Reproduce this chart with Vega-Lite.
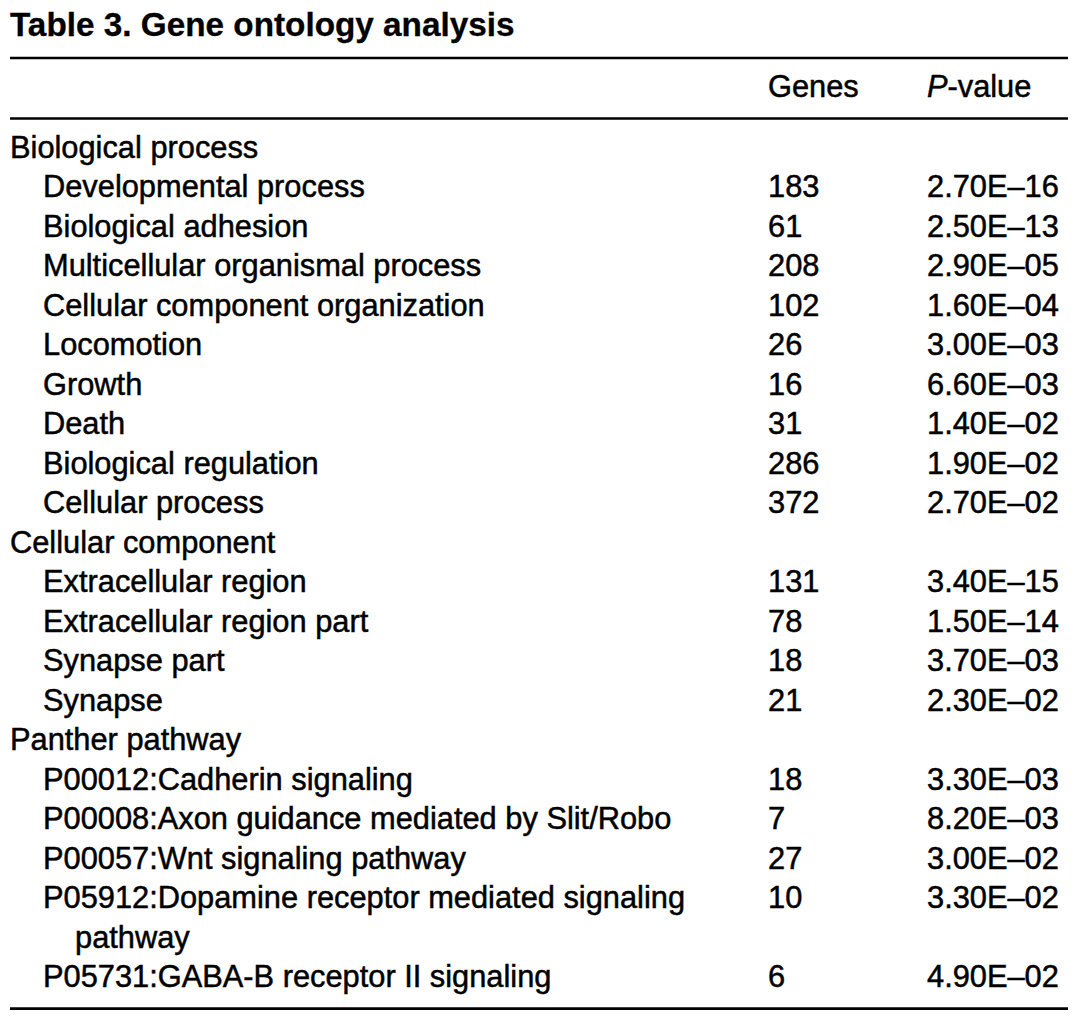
{
  "$schema": "https://vega.github.io/schema/vega-lite/v6.json",
  "width": 1079,
  "height": 1019,
  "padding": 0,
  "autosize": {"type": "none"},
  "background": "white",
  "config": {"view": {"stroke": null}},
  "datasets": {
    "title": [{"row": -1, "col": 0, "text": "Table 3. Gene ontology analysis"}],
    "header": [{"row": 0, "col": 3, "text": "Genes"}],
    "headerP": [{"row": 0, "col": 4, "italic": "P", "rest": "-value"}],
    "rules": [
      {"row": -0.5, "from": 0, "to": 5},
      {"row": 0.5, "from": 0, "to": 5},
      {"row": 22.55, "from": 0, "to": 5}
    ],
    "cells": [
      {"row": 1, "col": 0, "text": "Biological process"},
      {"row": 2, "col": 1, "text": "Developmental process"},
      {"row": 2, "col": 3, "text": "183"},
      {"row": 2, "col": 4, "text": "2.70E–16"},
      {"row": 3, "col": 1, "text": "Biological adhesion"},
      {"row": 3, "col": 3, "text": "61"},
      {"row": 3, "col": 4, "text": "2.50E–13"},
      {"row": 4, "col": 1, "text": "Multicellular organismal process"},
      {"row": 4, "col": 3, "text": "208"},
      {"row": 4, "col": 4, "text": "2.90E–05"},
      {"row": 5, "col": 1, "text": "Cellular component organization"},
      {"row": 5, "col": 3, "text": "102"},
      {"row": 5, "col": 4, "text": "1.60E–04"},
      {"row": 6, "col": 1, "text": "Locomotion"},
      {"row": 6, "col": 3, "text": "26"},
      {"row": 6, "col": 4, "text": "3.00E–03"},
      {"row": 7, "col": 1, "text": "Growth"},
      {"row": 7, "col": 3, "text": "16"},
      {"row": 7, "col": 4, "text": "6.60E–03"},
      {"row": 8, "col": 1, "text": "Death"},
      {"row": 8, "col": 3, "text": "31"},
      {"row": 8, "col": 4, "text": "1.40E–02"},
      {"row": 9, "col": 1, "text": "Biological regulation"},
      {"row": 9, "col": 3, "text": "286"},
      {"row": 9, "col": 4, "text": "1.90E–02"},
      {"row": 10, "col": 1, "text": "Cellular process"},
      {"row": 10, "col": 3, "text": "372"},
      {"row": 10, "col": 4, "text": "2.70E–02"},
      {"row": 11, "col": 0, "text": "Cellular component"},
      {"row": 12, "col": 1, "text": "Extracellular region"},
      {"row": 12, "col": 3, "text": "131"},
      {"row": 12, "col": 4, "text": "3.40E–15"},
      {"row": 13, "col": 1, "text": "Extracellular region part"},
      {"row": 13, "col": 3, "text": "78"},
      {"row": 13, "col": 4, "text": "1.50E–14"},
      {"row": 14, "col": 1, "text": "Synapse part"},
      {"row": 14, "col": 3, "text": "18"},
      {"row": 14, "col": 4, "text": "3.70E–03"},
      {"row": 15, "col": 1, "text": "Synapse"},
      {"row": 15, "col": 3, "text": "21"},
      {"row": 15, "col": 4, "text": "2.30E–02"},
      {"row": 16, "col": 0, "text": "Panther pathway"},
      {"row": 17, "col": 1, "text": "P00012:Cadherin signaling"},
      {"row": 17, "col": 3, "text": "18"},
      {"row": 17, "col": 4, "text": "3.30E–03"},
      {"row": 18, "col": 1, "text": "P00008:Axon guidance mediated by Slit/Robo"},
      {"row": 18, "col": 3, "text": "7"},
      {"row": 18, "col": 4, "text": "8.20E–03"},
      {"row": 19, "col": 1, "text": "P00057:Wnt signaling pathway"},
      {"row": 19, "col": 3, "text": "27"},
      {"row": 19, "col": 4, "text": "3.00E–02"},
      {"row": 20, "col": 1, "text": "P05912:Dopamine receptor mediated signaling"},
      {"row": 20, "col": 3, "text": "10"},
      {"row": 20, "col": 4, "text": "3.30E–02"},
      {"row": 21, "col": 2, "text": "pathway"},
      {"row": 22, "col": 1, "text": "P05731:GABA-B receptor II signaling"},
      {"row": 22, "col": 3, "text": "6"},
      {"row": 22, "col": 4, "text": "4.90E–02"}
    ]
  },
  "encoding": {
    "y": {
      "field": "row",
      "type": "quantitative",
      "axis": null,
      "scale": {
        "domain": [-1, -0.5, 0, 0.5, 1, 22, 23],
        "range": [36, 58, 97, 118.5, 157.5, 987, 1026.5],
        "nice": false,
        "zero": false
      }
    }
  },
  "layer": [
    {
      "data": {"name": "rules"},
      "mark": {"type": "rule", "color": "black", "strokeWidth": 2.7},
      "encoding": {
        "x": {
          "field": "from",
          "type": "quantitative",
          "axis": null,
          "scale": {"domain": [0, 1, 2, 3, 4, 5], "range": [10, 43, 75, 768, 927, 1068], "nice": false, "zero": false}
        },
        "x2": {"field": "to"}
      }
    },
    {
      "data": {"name": "title"},
      "mark": {"type": "text", "align": "left", "baseline": "alphabetic", "font": "Liberation Sans", "fontSize": 33.3, "fontWeight": "bold", "color": "black", "stroke": "black", "strokeWidth": 0.3},
      "encoding": {
        "x": {"field": "col", "type": "quantitative"},
        "text": {"field": "text"}
      }
    },
    {
      "data": {"name": "header"},
      "mark": {"type": "text", "align": "left", "baseline": "alphabetic", "font": "Liberation Sans", "fontSize": 30.8, "color": "black", "stroke": "black", "strokeWidth": 0.5},
      "encoding": {
        "x": {"field": "col", "type": "quantitative"},
        "text": {"field": "text"}
      }
    },
    {
      "data": {"name": "headerP"},
      "mark": {"type": "text", "align": "left", "baseline": "alphabetic", "font": "Liberation Sans", "fontSize": 30.8, "fontStyle": "italic", "color": "black", "stroke": "black", "strokeWidth": 0.5},
      "encoding": {
        "x": {"field": "col", "type": "quantitative"},
        "text": {"field": "italic"}
      }
    },
    {
      "data": {"name": "headerP"},
      "mark": {"type": "text", "align": "left", "baseline": "alphabetic", "font": "Liberation Sans", "fontSize": 30.8, "dx": 20.5, "color": "black", "stroke": "black", "strokeWidth": 0.5},
      "encoding": {
        "x": {"field": "col", "type": "quantitative"},
        "text": {"field": "rest"}
      }
    },
    {
      "data": {"name": "cells"},
      "mark": {"type": "text", "align": "left", "baseline": "alphabetic", "font": "Liberation Sans", "fontSize": 30.8, "color": "black", "stroke": "black", "strokeWidth": 0.5},
      "encoding": {
        "x": {"field": "col", "type": "quantitative"},
        "text": {"field": "text"}
      }
    }
  ]
}
